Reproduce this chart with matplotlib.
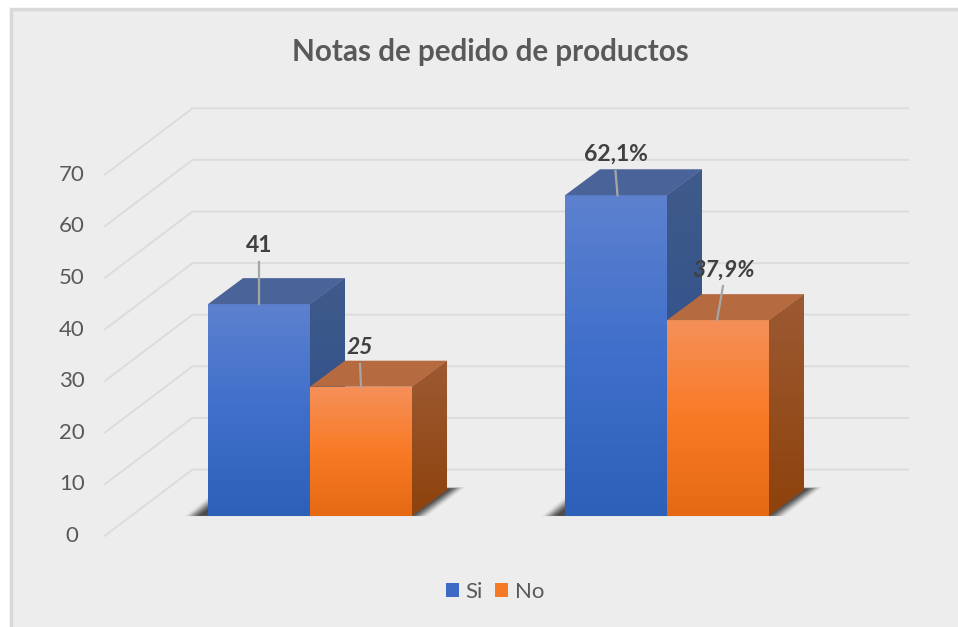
import numpy as np
import matplotlib
matplotlib.use("Agg")
import matplotlib.pyplot as plt
from matplotlib.colors import to_rgb
from matplotlib.patches import Patch, Polygon, Rectangle

plt.rcParams["font.family"] = ["Lato", "DejaVu Sans"]

title = "Notas de pedido de productos"
series = ["Si", "No"]
si_values = [41, 62.1]
no_values = [25, 37.9]
si_labels = ["41", "62,1%"]
no_labels = ["25", "37,9%"]
y_ticks = [0, 10, 20, 30, 40, 50, 60, 70]

W, H = 958, 627
PX_X = 357.0  # pixels per category
PX_Y = 5.16  # pixels per y unit
X0, Y0 = 310.0, 515.7  # pixel position of category 0, value 0
BAR_W = 102.0 / PX_X
DEPTH_X = 35.0 / PX_X
DEPTH_Y = 26.0 / PX_Y

BLUE = {"front": ["#5d81cf", "#3f6fca", "#2d60b8"], "top": "#4a6399",
        "side": ["#3f5b8b", "#2a4c8a"], "key": "#3c6ac4"}
ORANGE = {"front": ["#f59059", "#f97a25", "#e56913"], "top": "#b66a40",
          "side": ["#9c5a33", "#8e420c"], "key": "#f57a26"}
TEXT = "#595959"
LABEL = "#404040"
GRID = "#dcdcdc"
LEADER = "#a6a6a6"


def dx(px):
    return (px - X0) / PX_X


def dy(py):
    return (Y0 - py) / PX_Y


def gradient(colors):
    stops = np.array([to_rgb(c) for c in colors])
    pos = np.linspace(0, 1, len(colors))
    t = np.linspace(0, 1, 128)
    return np.stack([np.interp(t, pos, stops[:, i]) for i in range(3)], axis=1)[:, None, :]


def shadow(ax, x, w):
    # soft floor shadow, stacked so the edge fades out
    for grow, alpha in zip(np.linspace(16, 0, 17), np.linspace(0.015, 0.2, 17)):
        gx = grow / PX_X
        gy = grow * 0.1 / PX_Y
        ax.add_patch(Polygon(
            [(x - 8 / PX_X - gx, -gy * 0.3), (x + w + gx, -gy * 0.3),
             (x + w + 38 / PX_X + gx, 27 / PX_Y + gy), (x + 28 / PX_X - gx, 27 / PX_Y + gy)],
            closed=True, facecolor="#333333", edgecolor="none", alpha=alpha, zorder=2))


def bar3d(ax, x, value, style, z):
    top = value
    ax.bar(x, value, BAR_W, align="edge", color=style["front"][0], zorder=z)
    ax.imshow(gradient(style["front"]), extent=(x, x + BAR_W, 0, top), origin="upper",
              aspect="auto", zorder=z + 0.1, interpolation="bilinear")
    side = Polygon([(x + BAR_W, 0), (x + BAR_W + DEPTH_X, DEPTH_Y),
                    (x + BAR_W + DEPTH_X, top + DEPTH_Y), (x + BAR_W, top)],
                   closed=True, facecolor=style["side"][0], edgecolor="none", zorder=z)
    ax.add_patch(side)
    im = ax.imshow(gradient(style["side"]),
                   extent=(x + BAR_W, x + BAR_W + DEPTH_X, 0, top + DEPTH_Y), origin="upper",
                   aspect="auto", zorder=z + 0.1, interpolation="bilinear")
    im.set_clip_path(side)
    ax.add_patch(Polygon([(x, top), (x + BAR_W, top),
                          (x + BAR_W + DEPTH_X, top + DEPTH_Y), (x + DEPTH_X, top + DEPTH_Y)],
                         closed=True, facecolor=style["top"], edgecolor="none", zorder=z + 0.2))


fig = plt.figure(figsize=(W / 100, H / 100), dpi=100, facecolor="white")
ax = fig.add_axes([0, 0, 1, 1])
ax.axis("off")

# chart panel
ax.add_patch(Rectangle((dx(10.5), dy(H + 5)), (W + 10) / PX_X, (H - 4) / PX_Y, facecolor="#ededed",
                       edgecolor="#d9d9d9", linewidth=2.5, zorder=0))

# gridlines: floor/side wall then back wall
wall_x = dx(192.5)
left_x = dx(105)
for t in y_ticks:
    back = t + dy(469.5)
    ax.plot([left_x, wall_x, dx(908)], [t + dy(535.7), back, back], color=GRID, lw=1.4,
            solid_joinstyle="miter", zorder=1)
    ax.text(dx(72), t + dy(536), str(t), color=TEXT, fontsize=16, ha="center", va="center")

groups = np.arange(len(si_values))
for g in groups:
    shadow(ax, g - BAR_W, 2 * BAR_W)
for g in groups:
    bar3d(ax, g - BAR_W, si_values[g], BLUE, 3)
    bar3d(ax, g, no_values[g], ORANGE, 4)

# value labels with leader lines, offsets in pixels
si_anchor = [(258.7, 261.7, 258.7, 245), (617.5, 171, 615.5, 154)]
no_anchor = [(361, 364, 360, 347), (717, 286, 723, 270)]
for g in groups:
    x0, yend, xend, ylab = si_anchor[g]
    ax.plot([dx(x0), dx(xend)], [si_values[g], dy(yend)], color=LEADER, lw=1.6, zorder=6)
    ax.text(dx(xend), dy(ylab), si_labels[g], color=LABEL, fontsize=16.5, fontweight="bold",
            ha="center", va="center", zorder=7)
    x0, yend, xend, ylab = no_anchor[g]
    ax.plot([dx(x0), dx(xend)], [no_values[g], dy(yend)], color=LEADER, lw=1.6, zorder=6)
    ax.text(dx(xend), dy(ylab), no_labels[g], color=LABEL, fontsize=16.5, fontweight="bold",
            fontstyle="italic", ha="center", va="center", zorder=7)

ax.text(dx(490.5), dy(52), title, color=TEXT, fontsize=21.3, fontweight="bold",
        ha="center", va="center")

handles = [Patch(facecolor=BLUE["key"], label=series[0]), Patch(facecolor=ORANGE["key"], label=series[1])]
ax.legend(handles=handles, loc="center", bbox_to_anchor=(495 / W, 1 - 592 / H), ncol=2, frameon=False,
          fontsize=16, labelcolor=TEXT, handlelength=0.6, handleheight=0.6, handletextpad=0.3,
          columnspacing=0.55, borderpad=0)

ax.set_xlim(dx(0), dx(W))
ax.set_ylim(dy(H), dy(0))
ax.set_aspect("auto")

fig.savefig("out.png", dpi=100, facecolor=fig.get_facecolor())
plt.close(fig)
